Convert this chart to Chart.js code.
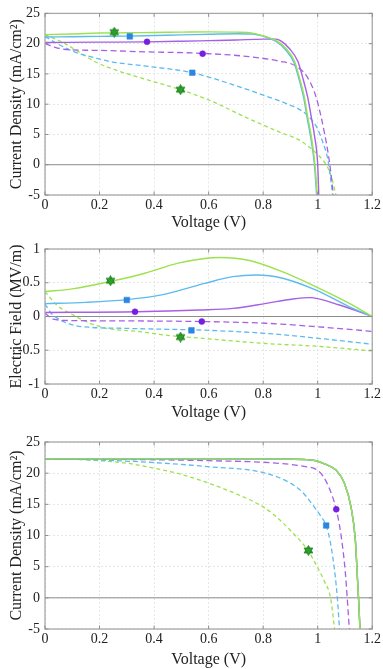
<!DOCTYPE html>
<html><head><meta charset="utf-8">
<script src="https://cdn.jsdelivr.net/npm/chart.js@4.4.1/dist/chart.umd.min.js"></script>
<style>
html,body{margin:0;padding:0;background:#fff;font-family:'Liberation Serif',serif;}
.box{position:absolute;left:0;width:383px;}
</style></head>
<body>
<div class="box" style="top:0;height:232px"><canvas id="c1"></canvas></div>
<div class="box" style="top:232px;height:190px"><canvas id="c2"></canvas></div>
<div class="box" style="top:422px;height:247px"><canvas id="c3"></canvas></div>
<script>
// ---------- tick labels ----------
const xTicks = [0,0.2,0.4,0.6,0.8,1,1.2];
const jTicks = [-5,0,5,10,15,20,25];
const eTicks = [-1,-0.5,0,0.5,1];

// ---------- panel 1: J-V ----------
const p1_solidGreen_V = [0,0.1,0.2,0.3,0.4,0.5,0.6,0.7,0.76,0.8,0.848,0.884,0.915,0.933,0.951,0.963,0.976,0.99,0.998];
const p1_solidGreen_J = [21.5,21.6,21.75,21.8,21.85,21.9,21.95,21.9,21.75,21.3,20.5,19.2,17.1,14.4,11.2,8.0,4.85,0,-5];
const p1_solidBlue_V  = [0,0.1,0.2,0.3,0.4,0.5,0.6,0.7,0.76,0.8,0.846,0.882,0.913,0.931,0.949,0.961,0.974,0.988,0.996];
const p1_solidBlue_J  = [21.1,21.15,21.2,21.25,21.35,21.45,21.55,21.65,21.6,21.25,20.4,19.0,16.9,14.2,11.0,7.8,4.6,0,-5];
const p1_solidPurple_V= [0,0.2,0.374,0.5,0.6,0.7,0.8,0.848,0.87,0.896,0.927,0.945,0.963,0.976,0.988,1.0,1.004];
const p1_solidPurple_J= [20.2,20.25,20.3,20.4,20.5,20.6,20.75,20.75,20.3,19.2,17.1,14.4,11.2,8.0,4.85,0,-5];
const p1_dashPurple_V = [0,0.037,0.085,0.18,0.37,0.577,0.738,0.86,0.92,0.963,0.994,1.012,1.025,1.04,1.05,1.057];
const p1_dashPurple_J = [20.0,19.4,19.0,18.9,18.65,18.4,17.9,17.1,16.3,14.4,11.2,8.0,5.2,1.4,-2.0,-5];
const p1_dashBlue_V   = [0,0.037,0.11,0.18,0.244,0.37,0.54,0.677,0.8,0.896,0.945,0.976,1.0,1.018,1.037,1.049,1.055];
const p1_dashBlue_J   = [21.2,20.2,18.6,17.7,17.0,16.3,15.2,13.4,11.5,9.9,8.8,7.5,5.9,3.8,0.9,-2.9,-5];
const p1_dashGreen_V  = [0,0.061,0.122,0.18,0.256,0.37,0.497,0.616,0.738,0.86,0.933,0.98,1.0,1.02,1.035,1.05,1.067];
const p1_dashGreen_J  = [21.5,20.3,18.7,17.1,15.7,14.1,12.4,10.4,7.8,5.4,4.06,2.5,1.7,0.7,-0.3,-2.0,-5];
const p1_mk_V = [0.254,0.311,0.374,0.578,0.54,0.497];
const p1_mk_J = [21.9,21.2,20.3,18.35,15.2,12.4];

// ---------- panel 2: electric field ----------
const p2_solidGreen_V = [0,0.1,0.2414,0.366,0.488,0.585,0.64,0.75,0.872,0.994,1.116,1.2];
const p2_solidGreen_E = [0.37,0.41,0.52,0.64,0.79,0.86,0.875,0.83,0.66,0.44,0.195,0];
const p2_solidBlue_V  = [0,0.15,0.3,0.427,0.585,0.689,0.775,0.872,0.994,1.116,1.2];
const p2_solidBlue_E  = [0.19,0.21,0.25,0.32,0.49,0.59,0.615,0.566,0.39,0.144,0];
const p2_solidPurple_V= [0,0.333,0.567,0.689,0.811,0.909,0.97,1.08,1.153,1.2];
const p2_solidPurple_E= [0.06,0.07,0.096,0.12,0.195,0.26,0.28,0.17,0.07,0];
const p2_dashPurple_V = [0,0.03,0.1,0.3,0.575,0.81,0.994,1.2];
const p2_dashPurple_E = [0.05,-0.04,-0.06,-0.065,-0.075,-0.1,-0.15,-0.22];
const p2_dashBlue_V   = [0,0.018,0.055,0.104,0.165,0.287,0.45,0.567,0.81,0.994,1.2];
const p2_dashBlue_E   = [0.19,0.07,-0.05,-0.127,-0.16,-0.175,-0.19,-0.2,-0.25,-0.32,-0.41];
const p2_dashGreen_V  = [0,0.043,0.104,0.165,0.226,0.348,0.45,0.567,0.81,0.994,1.2];
const p2_dashGreen_E  = [0.37,0.17,0.02,-0.1,-0.175,-0.225,-0.28,-0.32,-0.4,-0.44,-0.51];
const p2_mk_V = [0.24,0.30,0.33,0.575,0.537,0.497];
const p2_mk_E = [0.53,0.245,0.07,-0.075,-0.205,-0.305];

// ---------- panel 3: J-V ----------
const p3_solid_V      = [0,0.2,0.4,0.6,0.8,0.9,0.95,0.994,1.03,1.067,1.098,1.122,1.138,1.146,1.15,1.155];
const p3_solidGreen_J = [22.3,22.3,22.3,22.3,22.3,22.25,22.2,22.0,21.4,20.5,18.4,14.6,9.3,2.9,-0.35,-5];
const p3_solidBlue_J  = [22.3,22.3,22.3,22.3,22.3,22.25,22.2,22.0,21.4,20.5,18.4,14.6,9.3,2.9,-0.35,-5];
const p3_solidPurple_J= [22.3,22.3,22.3,22.3,22.3,22.25,22.2,22.0,21.4,20.5,18.4,14.6,9.3,2.9,-0.35,-5];
const p3_dashPurple_V = [0,0.2,0.4,0.6,0.823,0.9,0.95,0.994,1.02,1.045,1.068,1.085,1.101,1.116];
const p3_dashPurple_J = [22.3,22.25,22.15,22.0,21.7,21.4,21.1,20.6,19.5,17.3,14.2,10.2,4.2,-5];
const p3_dashBlue_V   = [0,0.2,0.4,0.61,0.8,0.9,0.945,0.98,1.01,1.031,1.045,1.055,1.064,1.072,1.08];
const p3_dashBlue_J   = [22.3,22.1,21.7,21.0,20.1,18.4,16.9,15.0,13.2,11.6,9.2,6.6,3.6,0,-5];
const p3_dashGreen_V  = [0,0.1,0.2,0.3,0.4,0.5,0.6,0.7,0.8,0.84,0.9,0.966,1.0,1.025,1.047,1.062];
const p3_dashGreen_J  = [22.3,22.25,22.0,21.6,20.8,19.8,18.4,16.7,14.6,13.3,10.8,7.5,4.8,2.6,0,-5];
const p3_mk_V = [1.068,1.031,0.966];
const p3_mk_J = [14.2,11.6,7.6];

// ---------- styling ----------
const PURPLE='#a65fe6', BLUE='#5dbbf0', GREEN='#9be24c';
const MK_PURPLE='#7420df', MK_BLUE='#2b86e2', MK_GREEN='#2ca02c';
const FAMILY="'Liberation Serif', 'Times New Roman', 'DejaVu Serif', serif";

function hexagram(){
  const c=document.createElement('canvas'); c.width=11; c.height=11;
  const g=c.getContext('2d'); const cx=5.5, cy=5.5, r=5;
  g.fillStyle=MK_GREEN; g.strokeStyle='#1f7f1f'; g.lineWidth=0.8;
  for(const off of [-Math.PI/2, Math.PI/2]){
    g.beginPath();
    for(let i=0;i<3;i++){const a=off+i*2*Math.PI/3; const px=cx+r*Math.cos(a), py=cy+r*Math.sin(a); i?g.lineTo(px,py):g.moveTo(px,py);}
    g.closePath(); g.fill(); g.stroke();
  }
  return c;
}
const STAR = hexagram();

Chart.defaults.font.family=FAMILY;
Chart.defaults.color='#222';

const zip=(a,b)=>a.map((v,i)=>({x:v,y:b[i]}));
function line(V,Y,color,dash){
  return {data:zip(V,Y),borderColor:color,borderWidth:dash?1.3:1.4,borderDash:dash||[],
    pointRadius:0,fill:false,cubicInterpolationMode:'monotone',showLine:true};
}
function marker(x,y,style,color,r){
  return {data:[{x:x,y:y}],showLine:false,pointStyle:style,pointRadius:r,
    pointBackgroundColor:color,pointBorderColor:color,borderColor:color,backgroundColor:color,pointBorderWidth:0.5};
}

const framePlugin={
  id:'frame',
  beforeDatasetsDraw(chart){
    const {ctx,chartArea:a,scales}=chart;
    ctx.save();
    ctx.strokeStyle='#8c8c8c'; ctx.lineWidth=1;
    const y0=scales.y.getPixelForValue(0);
    ctx.beginPath(); ctx.moveTo(a.left,y0); ctx.lineTo(a.right,y0); ctx.stroke();
    ctx.restore();
  },
  afterDatasetsDraw(chart){
    const {ctx,chartArea:a,scales}=chart;
    ctx.save();
    ctx.strokeStyle='#a8a8a8'; ctx.lineWidth=1.3;
    ctx.strokeRect(a.left,a.top,a.right-a.left,a.bottom-a.top);
    ctx.lineWidth=1; ctx.strokeStyle='#8f8f8f';
    ctx.beginPath();
    scales.x.ticks.forEach(t=>{const px=scales.x.getPixelForValue(t.value);
      ctx.moveTo(px,a.bottom);ctx.lineTo(px,a.bottom-3.5);ctx.moveTo(px,a.top);ctx.lineTo(px,a.top+3.5);});
    scales.y.ticks.forEach(t=>{const py=scales.y.getPixelForValue(t.value);
      ctx.moveTo(a.left,py);ctx.lineTo(a.left+3.5,py);ctx.moveTo(a.right,py);ctx.lineTo(a.right-3.5,py);});
    ctx.stroke();
    ctx.restore();
  }
};

function makeChart(id,datasets,yTicks,yTitle,padTop,xH){
  return new Chart(document.getElementById(id),{
    type:'scatter',
    data:{datasets},
    plugins:[framePlugin],
    options:{
      responsive:true,maintainAspectRatio:false,animation:false,
      layout:{padding:{top:padTop,right:10,left:0,bottom:0}},
      plugins:{legend:{display:false},tooltip:{enabled:false}},
      scales:{
        x:{type:'linear',min:0,max:1.2,
          afterBuildTicks:s=>{s.ticks=xTicks.map(v=>({value:v}));},
          afterFit:s=>{s.height=xH;},
          ticks:{font:{family:FAMILY,size:14},padding:2,maxRotation:0,callback:v=>String(+(+v).toFixed(2))},
          grid:{color:'#e6e6e6',drawTicks:false},
          border:{display:false,dash:[2,2]},
          title:{display:true,text:'Voltage (V)',font:{family:FAMILY,size:16},padding:{top:0,bottom:0}}},
        y:{type:'linear',min:yTicks[0],max:yTicks[yTicks.length-1],
          afterBuildTicks:s=>{s.ticks=yTicks.map(v=>({value:v}));},
          afterFit:s=>{s.width=45;},
          ticks:{font:{family:FAMILY,size:14},padding:5,callback:v=>String(+(+v).toFixed(2))},
          grid:{color:'#e6e6e6',drawTicks:false},
          border:{display:false,dash:[2,2]},
          title:{display:true,text:yTitle,font:{family:FAMILY,size:16},padding:{top:7,bottom:0}}}
      }
    }
  });
}

const DP=[6,3.5], DB=[5,3], DG=[4,3];

makeChart('c1',[
  marker(p1_mk_V[0],p1_mk_J[0],STAR,MK_GREEN,5),
  marker(p1_mk_V[1],p1_mk_J[1],'rect',MK_BLUE,4),
  marker(p1_mk_V[2],p1_mk_J[2],'circle',MK_PURPLE,3),
  marker(p1_mk_V[3],p1_mk_J[3],'circle',MK_PURPLE,3),
  marker(p1_mk_V[4],p1_mk_J[4],'rect',MK_BLUE,4),
  marker(p1_mk_V[5],p1_mk_J[5],STAR,MK_GREEN,5),
  line(p1_solidGreen_V,p1_solidGreen_J,GREEN),
  line(p1_solidBlue_V,p1_solidBlue_J,BLUE),
  line(p1_solidPurple_V,p1_solidPurple_J,PURPLE),
  line(p1_dashPurple_V,p1_dashPurple_J,PURPLE,DP),
  line(p1_dashBlue_V,p1_dashBlue_J,BLUE,DB),
  line(p1_dashGreen_V,p1_dashGreen_J,GREEN,DG)
],jTicks,'Current Density (mA/cm²)',7,37);

makeChart('c2',[
  marker(p2_mk_V[0],p2_mk_E[0],STAR,MK_GREEN,5),
  marker(p2_mk_V[1],p2_mk_E[1],'rect',MK_BLUE,4),
  marker(p2_mk_V[2],p2_mk_E[2],'circle',MK_PURPLE,3),
  marker(p2_mk_V[3],p2_mk_E[3],'circle',MK_PURPLE,3),
  marker(p2_mk_V[4],p2_mk_E[4],'rect',MK_BLUE,4),
  marker(p2_mk_V[5],p2_mk_E[5],STAR,MK_GREEN,5),
  line(p2_solidGreen_V,p2_solidGreen_E,GREEN),
  line(p2_solidBlue_V,p2_solidBlue_E,BLUE),
  line(p2_solidPurple_V,p2_solidPurple_E,PURPLE),
  line(p2_dashPurple_V,p2_dashPurple_E,PURPLE,DP),
  line(p2_dashBlue_V,p2_dashBlue_E,BLUE,DB),
  line(p2_dashGreen_V,p2_dashGreen_E,GREEN,DG)
],eTicks,'Electric Field (MV/m)',17,38);

makeChart('c3',[
  marker(p3_mk_V[0],p3_mk_J[0],'circle',MK_PURPLE,3),
  marker(p3_mk_V[1],p3_mk_J[1],'rect',MK_BLUE,4),
  marker(p3_mk_V[2],p3_mk_J[2],STAR,MK_GREEN,5),
  line(p3_solid_V,p3_solidGreen_J,GREEN),
  line(p3_solid_V,p3_solidBlue_J,BLUE),
  line(p3_solid_V,p3_solidPurple_J,'#6b5a8a'),
  line(p3_dashPurple_V,p3_dashPurple_J,PURPLE,DP),
  line(p3_dashBlue_V,p3_dashBlue_J,BLUE,DB),
  line(p3_dashGreen_V,p3_dashGreen_J,GREEN,DG)
],jTicks,'Current Density (mA/cm²)',20,40);
</script>
</body></html>
